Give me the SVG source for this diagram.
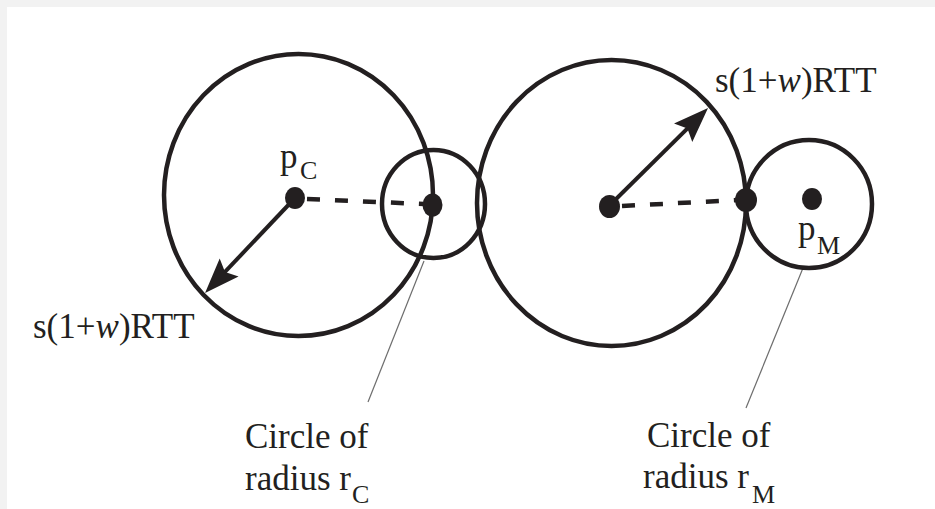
<svg xmlns="http://www.w3.org/2000/svg" width="935" height="509" viewBox="0 0 935 509">
<style>
.c{fill:none;stroke:#231f20;stroke-width:4.5}
.d{fill:#231f20}
.dash{stroke:#231f20;stroke-width:4.5;stroke-dasharray:13 15;fill:none}
.ar{stroke:#231f20;stroke-width:4;fill:none}
.lead{stroke:#6d6d6d;stroke-width:1.2;fill:none}
text{font-family:"Liberation Serif","Times New Roman",serif;fill:#231f20;font-size:35px}
.sub{font-size:26px}
</style>
<defs>
<marker id="ah" markerUnits="userSpaceOnUse" markerWidth="38" markerHeight="28" refX="14" refY="13" orient="auto" viewBox="0 0 38 28">
<path d="M0,0 L35,13 L0,26 L6,13 z" fill="#231f20"/>
</marker>
</defs>
<rect x="0" y="0" width="935" height="509" fill="#f2f2f2"/>
<rect x="7" y="7" width="928" height="502" fill="#ffffff"/>
<g id="connectors">
<line class="dash" x1="307" y1="199" x2="424" y2="204"/>
<line class="dash" x1="622" y1="206" x2="738" y2="200"/>
<line class="ar" x1="295" y1="198" x2="219.5" y2="277.7" marker-end="url(#ah)"/>
<line class="ar" x1="609" y1="206" x2="693.1" y2="122.8" marker-end="url(#ah)"/>
<line class="lead" x1="424" y1="261" x2="368" y2="402"/>
<line class="lead" x1="803" y1="268" x2="746" y2="408"/>
</g>
<g id="circleC">
<ellipse class="c" cx="298.5" cy="195" rx="134.5" ry="141"/>
</g>
<g id="circleM">
<ellipse class="c" cx="611.5" cy="203" rx="134.5" ry="143"/>
</g>
<g id="smallC">
<ellipse class="c" cx="433.5" cy="204" rx="51.5" ry="54"/>
</g>
<g id="smallM">
<ellipse class="c" cx="809" cy="204" rx="63" ry="64"/>
</g>
<g id="pC">
<ellipse class="d" cx="295" cy="198" rx="10" ry="11"/>
<text x="280" y="168">p</text>
<text class="sub" x="300" y="179">C</text>
</g>
<g id="dotC">
<ellipse class="d" cx="432.5" cy="205" rx="10" ry="11.5"/>
</g>
<g id="dotCenterM">
<ellipse class="d" cx="609.5" cy="206.5" rx="10.5" ry="11.5"/>
</g>
<g id="dotM">
<ellipse class="d" cx="746" cy="200" rx="11" ry="12"/>
</g>
<g id="pM">
<ellipse class="d" cx="812" cy="199" rx="10" ry="11"/>
<text x="798" y="240">p</text>
<text class="sub" x="817" y="254">M</text>
</g>
<g id="labelLeftRTT">
<text x="33" y="338">s(1+<tspan font-style="italic">w</tspan>)RTT</text>
</g>
<g id="labelRightRTT">
<text x="715" y="92">s(1+<tspan font-style="italic">w</tspan>)RTT</text>
</g>
<g id="labelRC">
<text x="245" y="448">Circle of</text>
<text x="245" y="490">radius r</text>
<text class="sub" x="352" y="503">C</text>
</g>
<g id="labelRM">
<text x="647" y="447">Circle of</text>
<text x="643" y="488">radius r</text>
<text class="sub" x="752" y="503">M</text>
</g>
</svg>
